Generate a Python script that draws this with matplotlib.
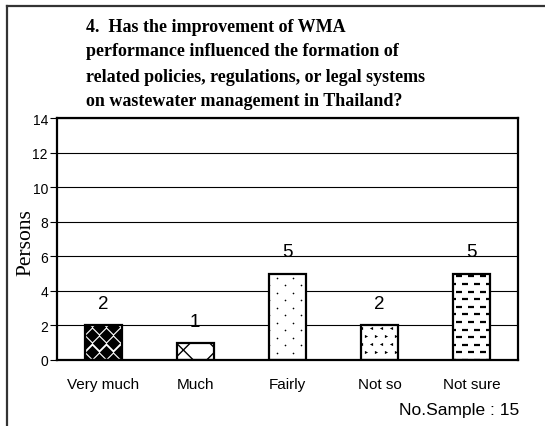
import matplotlib
matplotlib.use('Agg')
import numpy as np
import matplotlib.pyplot as plt
from matplotlib.lines import Line2D

categories = ['Very much', 'Much', 'Fairly', 'Not so', 'Not sure']
persons = [2, 1, 5, 2, 5]
yticks = [0, 2, 4, 6, 8, 10, 12, 14]
title_lines = ['4.  Has the improvement of WMA',
               'performance influenced the formation of',
               'related policies, regulations, or legal systems',
               'on wastewater management in Thailand?']
sample_note = 'No.Sample : 15'

W, H, DPI = 5.45, 4.27, 100
fig = plt.figure(figsize=(W, H), dpi=DPI)
ax = fig.add_axes([57 / 545, 1 - 361 / 427, 461 / 545, 242 / 427])
ax.set_xlim(-0.5, len(categories) - 0.5)
ax.set_ylim(0, 14)

# pixel -> data units, for the fill textures
pos = ax.get_position()
px_x = 5 / (pos.width * W * DPI)
px_y = 14 / (pos.height * H * DPI)

# frame of the cropped picture (top and left only)
fig.add_artist(Line2D([7 / 545, 1], [1 - 7 / 427, 1 - 7 / 427], color='#333333', lw=1.6,
                      transform=fig.transFigure))
fig.add_artist(Line2D([7 / 545, 7 / 545], [0, 1 - 7 / 427], color='#333333', lw=1.6,
                      transform=fig.transFigure))

x = np.arange(len(categories))
fills = ax.bar(x, persons, width=0.4, color='white', linewidth=0, zorder=2)
ax.bar(x, persons, width=0.4, facecolor='none', edgecolor='black', linewidth=1.6, zorder=4)


def texture(bar, dx, dy, marker, size, lw=0, stagger=True, alt_marker=None):
    # lattice of small marks, clipped to the bar
    x0, w, h = bar.get_x(), bar.get_width(), bar.get_height()
    xs_a, ys_a, xs_b, ys_b = [], [], [], []
    j = 0
    yy = 0.0
    while yy < h + dy * px_y:
        off = (dx / 2) * px_x if (stagger and j % 2) else 0.0
        xx = x0 - dx * px_x + off
        while xx < x0 + w + dx * px_x:
            if alt_marker and j % 2:
                xs_b.append(xx); ys_b.append(yy)
            else:
                xs_a.append(xx); ys_a.append(yy)
            xx += dx * px_x
        yy += dy * px_y
        j += 1
    for xs, ys, m in ((xs_a, ys_a, marker), (xs_b, ys_b, alt_marker)):
        if not xs:
            continue
        sc = ax.scatter(xs, ys, marker=m, s=size ** 2, c='black', linewidths=lw,
                        edgecolors='black', zorder=3)
        sc.set_clip_path(bar)


texture(fills[0], 14, 8.3, 'D', 6.8)
fills[1].set_hatch('x')
fills[1].set_edgecolor('black')
texture(fills[2], 16, 7.5, 'o', 1.2)
texture(fills[3], 10, 8, '<', 2.3, alt_marker='>')
texture(fills[4], 12, 7.6, '_', 5.0, lw=1.6)

for xi, v in zip(x, persons):
    ax.text(xi, v + 1.25, str(v), ha='center', va='center', fontsize=13.5,
            family='Liberation Sans', zorder=5)

ax.set_yticks(yticks)
ax.set_yticklabels([str(t) for t in yticks], family='Liberation Sans', fontsize=10)
ax.set_xticks(x)
ax.set_xticklabels(categories, family='Liberation Sans', fontsize=11)
ax.tick_params(axis='x', length=0, pad=12)
ax.tick_params(axis='y', length=5, width=0.8, pad=1.5)
ax.yaxis.grid(True, color='black', linewidth=0.8, zorder=0)
ax.set_axisbelow(True)
for s in ax.spines.values():
    s.set_linewidth(1.6)

ax.set_ylabel('Persons', family='Liberation Serif', fontsize=15.5, va='center')
ax.yaxis.set_label_coords(-0.067, 0.49)

for i, line in enumerate(title_lines):
    fig.text(86 / 545, 1 - (27 + 25 * i) / 427, line, ha='left', va='center',
             fontsize=13, fontweight='bold', family='Liberation Serif')
fig.text(519 / 545, 1 - 411 / 427, sample_note, ha='right', va='center', fontsize=12.5,
         family='Liberation Sans')

fig.savefig('out.png', dpi=DPI)
